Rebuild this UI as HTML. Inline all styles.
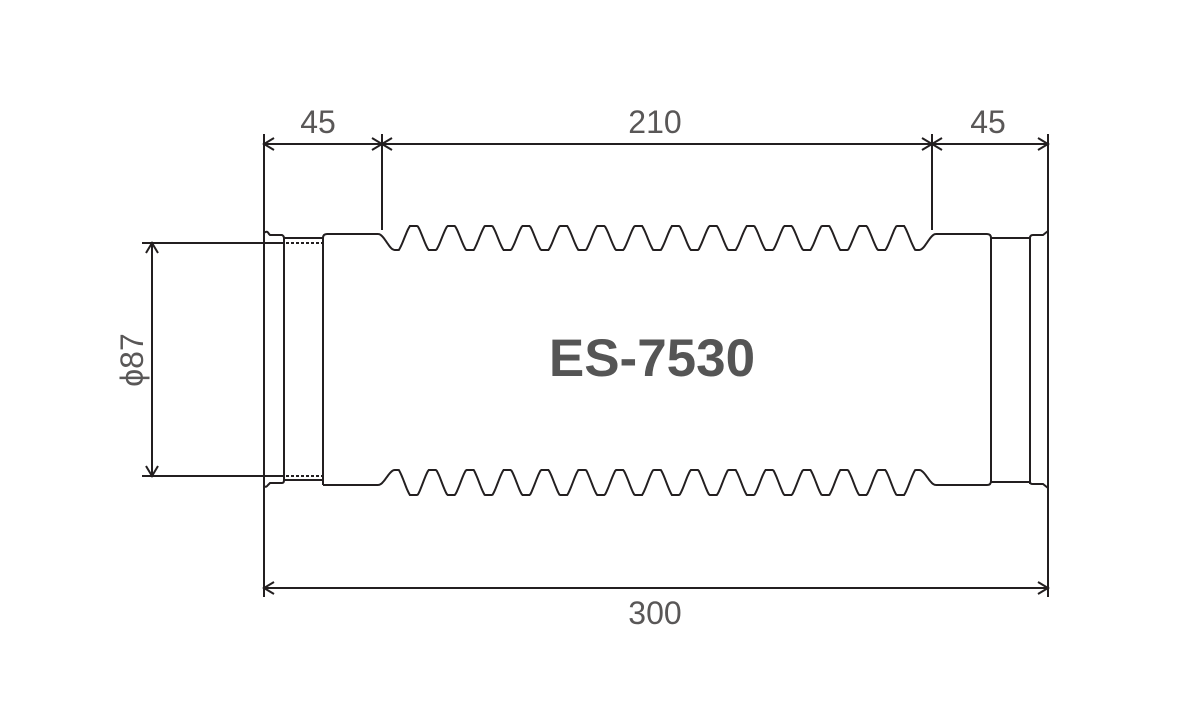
<!DOCTYPE html>
<html><head><meta charset="utf-8"><style>
html,body{margin:0;padding:0;background:#fff;}
svg{display:block;}
text{font-family:"Liberation Sans",sans-serif;fill:#595757;}
</style></head><body>
<svg id="s" width="1181" height="709" viewBox="0 0 1181 709" xmlns="http://www.w3.org/2000/svg">
<g stroke="#231f20" stroke-width="2" fill="none">
<line x1="264" y1="144" x2="1048" y2="144"/>
<line x1="264" y1="134" x2="264" y2="597"/>
<line x1="382" y1="134" x2="382" y2="230"/>
<line x1="932" y1="134" x2="932" y2="230"/>
<line x1="1048" y1="134" x2="1048" y2="597"/>
<path d="M274 138 L264 144 L274 150 M372 138 L382 144 L372 150 M392 138 L382 144 L392 150 M922 138 L932 144 L922 150 M942 138 L932 144 L942 150 M1038 138 L1048 144 L1038 150"/>
<line x1="264" y1="588" x2="1048" y2="588"/>
<path d="M274 582 L264 588 L274 594 M1038 582 L1048 588 L1038 594"/>
<line x1="142" y1="243" x2="285" y2="243"/>
<line x1="142" y1="476" x2="285" y2="476"/>
<line x1="152" y1="243" x2="152" y2="476"/>
<path d="M146 253 L152 243 L158 253 M146 466 L152 476 L158 466"/>
<path d="M264 233 Q267 230 269 234 L270 235 L282 235 Q284 236 284 238 L284 480 Q284 483 282 483 L270 483 L268 485 Q266 488 264 486"/>
<line x1="284" y1="238" x2="323" y2="238"/>
<line x1="284" y1="480" x2="323" y2="480"/>
<line x1="286" y1="243" x2="323" y2="243" stroke-dasharray="3 2"/>
<line x1="286" y1="476" x2="323" y2="476" stroke-dasharray="3 2"/>
<path d="M323 485 L323 238 Q323 234 327 234 L378 234"/>
<path d="M323 485 L378 485"/>
<path id="wt"/>
<path id="wb"/>
<path d="M936 234 L987 234 Q991 234 991 238 L991 482"/>
<path d="M936 485 L987 485 Q991 485 991 481"/>
<line x1="991" y1="238" x2="1030" y2="238"/>
<line x1="991" y1="482" x2="1030" y2="482"/>
<path d="M1030 484 L1030 238 Q1030 235 1033 235 L1043 235 L1048 231"/>
<path d="M1030 482 Q1030 484 1033 484 L1043 484 L1048 488"/>
</g>
<text x="318" y="133" font-size="32" text-anchor="middle">45</text>
<text x="655" y="133" font-size="32" text-anchor="middle">210</text>
<text x="988" y="133" font-size="32" text-anchor="middle">45</text>
<text x="655" y="624" font-size="32" text-anchor="middle">300</text>
<text transform="translate(143,360) rotate(-90)" font-size="32" text-anchor="middle">ϕ87</text>
<text x="652" y="376" font-size="53" font-weight="bold" text-anchor="middle" style="fill:#555">ES-7530</text>
</svg>
<script>
function wave(base,inn,out){
  var d="M378 "+base;
  var x0=378,x1=936,steps=560;
  for(var i=1;i<=steps;i++){
    var x=x0+(x1-x0)*i/steps, y;
    if(x<395){ var t=(x-378)/17; y=base+(inn-base)*(1-Math.cos(Math.PI*t))/2; }
    else if(x>919){ var t=(936-x)/17; y=base+(inn-base)*(1-Math.cos(Math.PI*t))/2; }
    else { var p=(x-395)/37.43; var c=Math.cos(2*Math.PI*p);
      c=Math.max(-1,Math.min(1,c*1.25));
      var mid=(inn+out)/2, amp=(inn-out)/2; y=mid+amp*c; }
    d+=" L"+x.toFixed(1)+" "+y.toFixed(1);
  }
  return d;
}
document.getElementById("wt").setAttribute("d",wave(234,250,226));
document.getElementById("wb").setAttribute("d",wave(485,470,495));
</script>
</body></html>
